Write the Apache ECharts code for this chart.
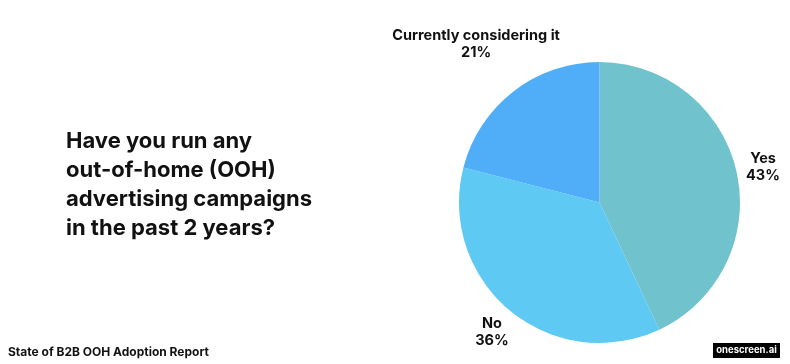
<!DOCTYPE html>
<html><head><meta charset="utf-8">
<script src="https://cdn.jsdelivr.net/npm/echarts@6/dist/echarts.min.js"></script>
<style>html,body{margin:0;padding:0;background:#fff}#c{width:790px;height:364px}</style>
</head><body><div id="c"></div>
<script>
const categories = ['Yes', 'No', 'Currently considering it'];
const values = [43, 36, 21];
const colors = ['#70c2cd', '#5ec9f3', '#50aef8'];
const titleText = 'Have you run any\nout-of-home (OOH)\nadvertising campaigns\nin the past 2 years?';
const footerText = 'State of B2B OOH Adoption Report';
const brandText = 'onescreen.ai';

// label nudges (layout only)
const labelNudge = [[-3, 1], [3, 2], [-17, -28]];

const font = 'Inter, "Open Sans", sans-serif';
const chart = echarts.init(document.getElementById('c'), null, {renderer: 'canvas'});
chart.setOption({
  backgroundColor: '#ffffff',
  animation: false,
  graphic: [
    {type: 'text', left: 66, top: 127, style: {text: titleText, font: 'bold 22px ' + font, lineHeight: 29, fill: '#111'}},
    {type: 'text', left: 8, top: 346, style: {text: footerText, font: 'bold 12px ' + font, fill: '#111'}},
    {type: 'rect', shape: {x: 713, y: 343, width: 67, height: 15}, style: {fill: '#000'}},
    {type: 'text', x: 746.5, y: 350.5, style: {text: brandText, font: 'bold 9.5px ' + font, fill: '#fff', align: 'center', verticalAlign: 'middle'}}
  ],
  series: [{
    type: 'pie',
    center: [599.5, 202.5],
    radius: 140.5,
    startAngle: 90,
    clockwise: true,
    avoidLabelOverlap: false,
    data: categories.map((c, i) => ({name: c, value: values[i], itemStyle: {color: colors[i]}})),
    label: {
      show: true, position: 'outside', alignTo: 'none', overflow: 'none',
      formatter: p => p.name + '\n' + p.value + '%',
      fontFamily: font, fontWeight: 'bold', fontSize: 14.5, color: '#111', lineHeight: 17
    },
    labelLine: {show: false, length: 25, length2: 0},
    labelLayout: p => ({align: 'center', dx: labelNudge[p.dataIndex][0], dy: labelNudge[p.dataIndex][1]})
  }]
});
</script></body></html>
